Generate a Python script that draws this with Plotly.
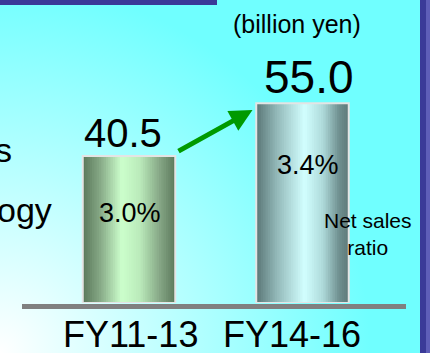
import base64
import plotly.graph_objects as go

# ---------------- data ----------------
categories = ["FY11-13", "FY14-16"]
values = [40.5, 55.0]
value_labels = ["40.5", "55.0"]
ratio_labels = ["3.0%", "3.4%"]
unit_label = "(billion yen)"
ratio_title = "Net sales<br>ratio"
cut_text = ["s", "ogy"]

# ---------------- layout helpers ----------------
W, H = 430, 353
FONT = "Liberation Sans, Arial, sans-serif"


def px(x):
    return x / W


def py(y):
    return 1 - y / H


# plot area geometry (pixels)
x_left, x_right = 42.25, 389.25
y_bottom = 303
y_scale = 3.63  # px per unit
bar_w = 92.5 / 173.5

green_stops = [(0.0, (0x5A, 0x78, 0x5A)), (0.18, (0x84, 0xA6, 0x84)),
               (0.42, (0xCC, 0xFF, 0xCC)), (0.62, (0xBA, 0xEA, 0xBA)),
               (0.84, (0x84, 0xA4, 0x84)), (1.0, (0x5C, 0x7A, 0x5C))]
teal_stops = [(0.0, (0x5A, 0x76, 0x76)), (0.22, (0x92, 0xB8, 0xB8)),
              (0.52, (0xD2, 0xFF, 0xFF)), (0.72, (0xAE, 0xDA, 0xDA)),
              (0.9, (0x6E, 0x8E, 0x8E)), (1.0, (0x5E, 0x7A, 0x7A))]


def grad(stops, t):
    for (t0, c0), (t1, c1) in zip(stops, stops[1:]):
        if t0 <= t <= t1:
            f = (t - t0) / (t1 - t0) if t1 > t0 else 0
            c = [round(a + (b - a) * f) for a, b in zip(c0, c1)]
            return "rgb(%d,%d,%d)" % tuple(c)
    return "rgb(%d,%d,%d)" % stops[-1][1]


fig = go.Figure()

N = 40
step = bar_w / N
for i in range(N):
    t = (i + 0.5) / N
    w = step * 2 if i < N - 1 else step
    fig.add_trace(go.Bar(
        x=categories, y=values,
        width=w,
        offset=-bar_w / 2 + i * step,
        marker=dict(color=[grad(green_stops, t), grad(teal_stops, t)], line_width=0),
        hoverinfo="skip", showlegend=False,
    ))

# outline of each bar
fig.add_trace(go.Bar(
    x=categories, y=values, width=bar_w,
    marker=dict(color="rgba(0,0,0,0)", line=dict(color="#E4E4E4", width=2)),
    hoverinfo="skip", showlegend=False,
))

# background gradient (radial from bottom-left corner)
svg = (
    '<svg xmlns="http://www.w3.org/2000/svg" width="430" height="353">'
    '<defs><radialGradient id="g" gradientUnits="userSpaceOnUse" cx="0" cy="353" r="370">'
    '<stop offset="0" stop-color="#FFFFFF"/><stop offset="1" stop-color="#70FFFF"/>'
    '</radialGradient></defs><rect width="430" height="353" fill="url(#g)"/></svg>'
)
src = "data:image/svg+xml;base64," + base64.b64encode(svg.encode()).decode()

annotations = []

# value labels
for cat, lab, xs, yc, size in zip(categories, value_labels, [-6.5, 6.5], [133, 76.5], [40, 46]):
    annotations.append(dict(x=cat, xref="x", xshift=xs, y=py(yc), yref="paper",
                            text=lab, yanchor="middle", xanchor="center",
                            font=dict(family=FONT, size=size, color="black"), showarrow=False))
# ratio labels
for cat, lab, xs, yc in zip(categories, ratio_labels, [1, 5.5], [213, 165]):
    annotations.append(dict(x=cat, xref="x", xshift=xs, y=py(yc), yref="paper",
                            text=lab, yanchor="middle", xanchor="center",
                            font=dict(family=FONT, size=27, color="black"), showarrow=False))
# category labels
for cat, xs in zip(categories, [1, -10.5]):
    annotations.append(dict(x=cat, xref="x", xshift=xs, y=py(334.5), yref="paper",
                            text=cat, yanchor="middle", xanchor="center",
                            font=dict(family=FONT, size=36, color="black"), showarrow=False))
# unit label
annotations.append(dict(x=px(296.5), y=py(24), xref="paper", yref="paper", text=unit_label,
                        xanchor="center", yanchor="middle",
                        font=dict(family=FONT, size=25, color="black"), showarrow=False))
# net sales ratio
annotations.append(dict(x=px(368), y=py(234), xref="paper", yref="paper", text=ratio_title,
                        xanchor="center", yanchor="middle", align="center",
                        font=dict(family=FONT, size=21, color="black"), showarrow=False))
# cut-off left texts
for t, xr, yc in zip(cut_text, [14, 54], [150, 210]):
    annotations.append(dict(x=px(xr), y=py(yc), xref="paper", yref="paper", text=t,
                            xanchor="right", yanchor="middle",
                            font=dict(family=FONT, size=34, color="black"), showarrow=False))
# growth arrow
annotations.append(dict(x=px(252.5), y=py(110), xref="paper", yref="paper", text="",
                        showarrow=True, ax=-75.5, ay=42, arrowhead=2, arrowsize=0.9,
                        arrowwidth=5, arrowcolor="#009A00", standoff=0))

shapes = [
    dict(type="rect", xref="paper", yref="paper", x0=0, x1=px(217), y0=py(5), y1=1,
         fillcolor="#3A3A98", line_width=0),
    dict(type="rect", xref="paper", yref="paper", x0=px(420), x1=px(426), y0=0, y1=1,
         fillcolor="#3A3A98", line_width=0),
    dict(type="rect", xref="paper", yref="paper", x0=px(426), x1=1, y0=0, y1=1,
         fillcolor="#5E5EB8", line_width=0),
    dict(type="rect", xref="paper", yref="paper", x0=px(22), x1=px(406), y0=py(309), y1=py(304),
         fillcolor="#808080", line_width=0),
]

fig.update_layout(
    width=W, height=H,
    margin=dict(l=0, r=0, t=0, b=0),
    paper_bgcolor="rgba(0,0,0,0)", plot_bgcolor="rgba(0,0,0,0)",
    barmode="overlay",
    showlegend=False,
    xaxis=dict(domain=[px(x_left), px(x_right)], range=[-0.5, 1.5], type="category",
               showticklabels=False, showgrid=False, zeroline=False, showline=False, ticks=""),
    yaxis=dict(domain=[py(y_bottom), 1], range=[0, y_bottom / y_scale],
               showticklabels=False, showgrid=False, zeroline=False, showline=False, ticks=""),
    images=[dict(source=src, xref="paper", yref="paper", x=0, y=1, sizex=1, sizey=1,
                 sizing="stretch", xanchor="left", yanchor="top", layer="below")],
    annotations=annotations,
    shapes=shapes,
)

fig.write_html("out.html")
